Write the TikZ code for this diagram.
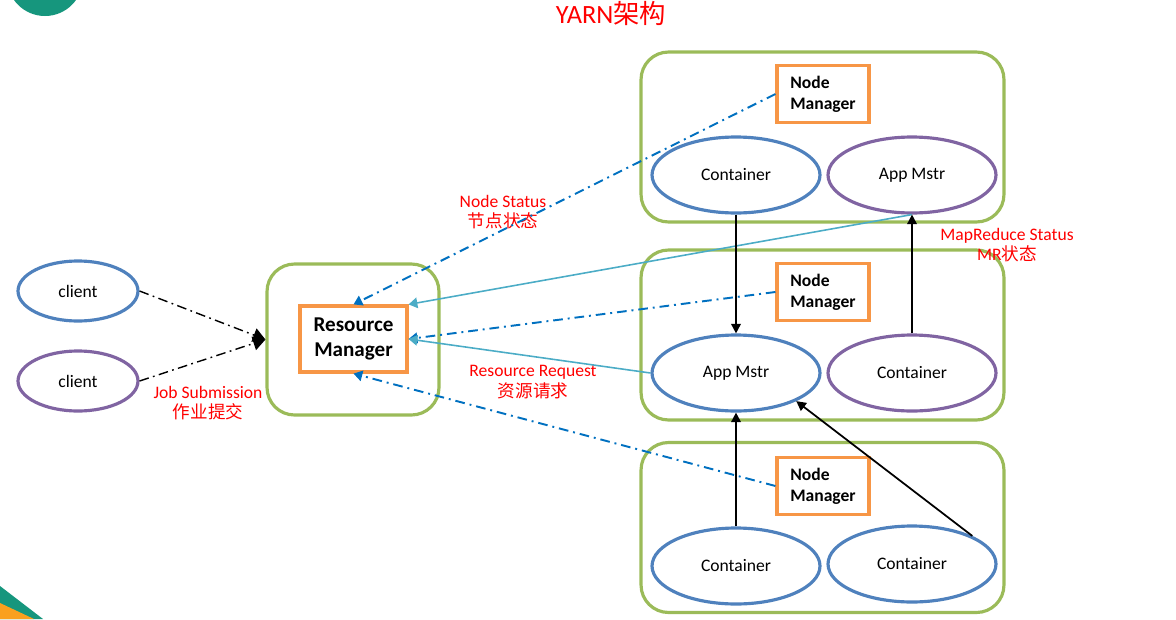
\documentclass[tikz,border=0pt]{standalone}
\usepackage{fontspec}
\setmainfont{Carlito}
\newfontfamily\cjk{Noto Sans CJK SC}
\usepackage{tikz}
\usetikzlibrary{positioning,shapes.geometric,arrows.meta}
\definecolor{boxgreen}{RGB}{155,187,89}
\definecolor{nmorange}{RGB}{247,150,70}
\definecolor{ellblue}{RGB}{79,129,189}
\definecolor{ellpurple}{RGB}{128,100,162}
\definecolor{statblue}{RGB}{0,112,192}
\definecolor{reqcyan}{RGB}{75,172,198}
\definecolor{slideteal}{RGB}{22,150,125}
\definecolor{slideorange}{RGB}{250,160,30}

\begin{document}
\begin{tikzpicture}[x=0.02cm,y=-0.02cm,
    hostbox/.style={draw=boxgreen,line width=1.8pt,rounded corners=0.55cm,
      minimum width=7.26cm,minimum height=3.4cm},
    mgrbox/.style={draw=nmorange,line width=1.8pt,fill=white,font=\bfseries,
      align=left,minimum width=1.84cm,minimum height=1.14cm,inner sep=0pt},
    proc/.style={ellipse,line width=1.8pt,fill=white,inner sep=0pt,
      minimum width=3.36cm,minimum height=1.52cm},
    redtext/.style={text=red,align=center},
    submit/.style={black,line width=0.8pt,dash pattern=on 5.5pt off 2.5pt on 1pt off 2.5pt,
      -{Triangle[length=7pt,width=8pt]}},
    status/.style={statblue,line width=1.1pt,dash pattern=on 5.5pt off 2.8pt on 1.1pt off 2.8pt,
      -{Triangle[length=5pt,width=6pt]}},
    request/.style={reqcyan,line width=0.9pt,-{Triangle[length=5pt,width=6pt]}},
    launch/.style={black,line width=1pt,-{Triangle[length=5.5pt,width=5.5pt]}},
    font=\fontsize{10pt}{11.5pt}\selectfont]
  \useasboundingbox (0,0) rectangle (1176,619);
  % slide decoration
  \fill[slideteal] (45,-22) circle[radius=38];
  \fill[white] (45,-26) circle[radius=24];
  \fill[slideteal] (0,586) -- (43,619) -- (0,619) -- cycle;
  \fill[slideorange] (0,603) -- (34,619) -- (0,619) -- cycle;
  % title
  \node[text=red,font=\fontsize{15pt}{17pt}\selectfont] (title) at (611,13) {YARN{\cjk 架构}};
  % resource manager
  \node[hostbox,minimum width=3.44cm,minimum height=3.02cm] (rmbox) at (353,339.5) {};
  \node[mgrbox,align=center,minimum width=2.14cm,minimum height=1.32cm,
    font=\fontsize{12pt}{14pt}\selectfont\bfseries] (rm) at (353.5,339) {\rule{0pt}{6pt}Resource\\Manager};
  % clients
  \node[proc,draw=ellblue,minimum width=2.4cm,minimum height=1.2cm] (clientA) at (78,291) {client};
  \node[proc,draw=ellpurple,minimum width=2.4cm,minimum height=1.2cm] (clientB) at (78,381) {client};
  % node hosts
  \node[hostbox] (boxA) at (822.5,137) {};
  \node[hostbox] (boxB) at (822.5,335) {};
  \node[hostbox] (boxC) at (822.5,527.5) {};
  \node[mgrbox] (nmA) at (823,94) {\rule{0pt}{4pt}Node\\Manager};
  \node[mgrbox] (nmB) at (823,292) {\rule{0pt}{4pt}Node\\Manager};
  \node[mgrbox] (nmC) at (823,486) {\rule{0pt}{4pt}Node\\Manager};
  \node[proc,draw=ellblue] (contA) at (736,175) {Container};
  \node[proc,draw=ellpurple] (amA) at (912,175) {App Mstr};
  \node[proc,draw=ellblue] (amB) at (736,373) {App Mstr};
  \node[proc,draw=ellpurple] (contB) at (912,373) {Container};
  \node[proc,draw=ellblue] (contC) at (736,566) {Container};
  \node[proc,draw=ellblue] (contD) at (912,564) {Container};
  % labels
  \node[redtext] (lblJob) at (208,403) {Job Submission\\{\cjk 作业提交}};
  \node[redtext] (lblNode) at (503,212) {Node Status\\{\cjk 节点状态}};
  \node[redtext] (lblMR) at (1007,245) {MapReduce Status\\MR{\cjk 状态}};
  \node[redtext] (lblReq) at (533,382) {Resource Request\\{\cjk 资源请求}};
  % job submission
  \draw[submit] (clientA.east) -- (rmbox.west);
  \draw[submit] (clientB.east) -- (rmbox.west);
  % node status
  \draw[status] (nmA.west) -- (rm.north);
  \draw[status] (nmB.west) -- (rm.east);
  \draw[status] (nmC.west) -- (rm.south);
  % resource requests
  \draw[request] (amA.south) -- (rm.north east);
  \draw[request] (amB.west) -- (rm.east);
  % containers to app masters
  \draw[launch] (contA.south) -- (amB.north);
  \draw[launch] (contB.north) -- (amA.south);
  \draw[launch] (contC.north) -- (amB.south);
  \draw[launch] (contD.25) -- (amB.-25);
\end{tikzpicture}
\end{document}
